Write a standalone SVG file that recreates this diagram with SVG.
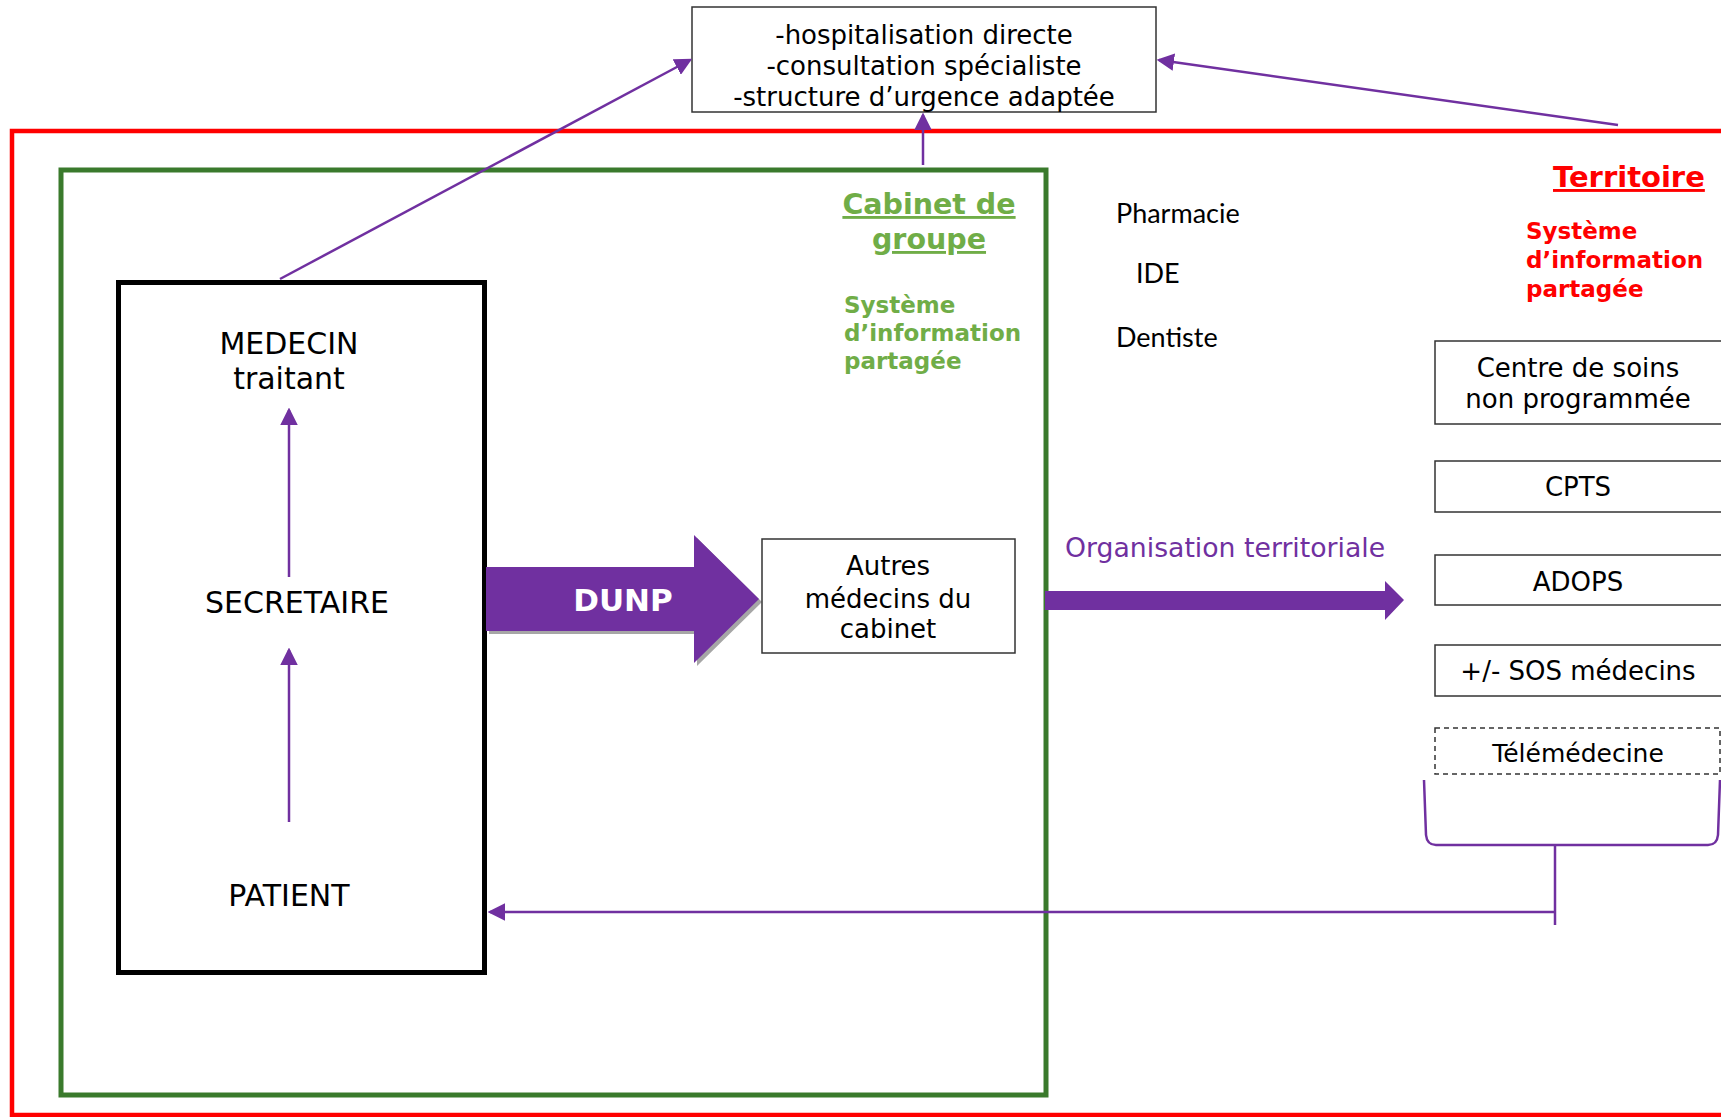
<svg xmlns="http://www.w3.org/2000/svg" width="1721" height="1117" viewBox="0 0 1721 1117">
  <style>
    .t { font-family: "DejaVu Sans", Verdana, sans-serif; fill: #000; }
    .c { text-anchor: middle; }
    .cal { font-family: Lato, "Liberation Sans", sans-serif; font-size: 27px; fill: #000; }
    .box { fill: #fff; stroke: #333; stroke-width: 1.5; }
    .conn { fill: none; stroke: #7030A0; stroke-width: 2.5; }
    .green { fill: #70AD47; font-weight: bold; font-family: "DejaVu Sans", Verdana, sans-serif; }
    .red { fill: #FF0000; font-weight: bold; font-family: "DejaVu Sans", Verdana, sans-serif; }
  </style>
  <defs>
    <marker id="ah" markerWidth="7" markerHeight="7" refX="6" refY="3.5" orient="auto" markerUnits="strokeWidth">
      <path d="M0,0 L7,3.5 L0,7 Z" fill="#7030A0"/>
    </marker>
  </defs>
  <rect width="1721" height="1117" fill="#fff"/>

  <!-- Territory frame -->
  <g id="territoire">
    <rect x="12" y="131" width="1730" height="984" fill="none" stroke="#FF0000" stroke-width="4.5"/>
    <text class="red" x="1553" y="187" font-size="29" text-decoration="underline">Territoire</text>
    <text class="red" font-size="23"><tspan x="1526" y="239">Système</tspan><tspan x="1526" y="268">d’information</tspan><tspan x="1526" y="297">partagée</tspan></text>
  </g>

  <!-- Group practice frame -->
  <g id="cabinet">
    <rect x="61" y="170" width="985" height="925" fill="none" stroke="#3A7A2C" stroke-width="5"/>
    <text class="green c" font-size="28.5" text-decoration="underline"><tspan x="929" y="214">Cabinet de</tspan><tspan x="929" y="249">groupe</tspan></text>
    <text class="green" font-size="23"><tspan x="844" y="313">Système</tspan><tspan x="844" y="341">d’information</tspan><tspan x="844" y="369">partagée</tspan></text>
  </g>

  <!-- Orientation box -->
  <g id="orientation">
    <rect class="box" x="692" y="7" width="464" height="105"/>
    <text class="t c" font-size="26"><tspan x="924" y="44">-hospitalisation directe</tspan><tspan x="924" y="75">-consultation spécialiste</tspan><tspan x="924" y="106">-structure d’urgence adaptée</tspan></text>
  </g>

  <!-- Treating physician block -->
  <g id="parcours">
    <rect x="118.5" y="282.5" width="366" height="690" fill="none" stroke="#000" stroke-width="5"/>
    <text class="t c" font-size="30"><tspan x="289" y="354">MEDECIN</tspan><tspan x="289" y="389">traitant</tspan></text>
    <text class="t c" font-size="30" x="297" y="613">SECRETAIRE</text>
    <text class="t c" font-size="30" x="289" y="906">PATIENT</text>
  </g>

  <!-- DUNP block arrow -->
  <g id="dunp">
    <polygon points="489,570 697,570 697,538 762,602 697,666 697,634 489,634" fill="#A6A6A6"/>
    <polygon points="486,567 694,567 694,535 759,599 694,663 694,631 486,631" fill="#7030A0"/>
    <text x="623" y="611" font-family="DejaVu Sans, Verdana, sans-serif" font-weight="bold" font-size="31" fill="#fff" text-anchor="middle">DUNP</text>
  </g>

  <g id="autres">
    <rect class="box" x="762" y="539" width="253" height="114"/>
    <text class="t c" font-size="26"><tspan x="888" y="575">Autres</tspan><tspan x="888" y="608">médecins du</tspan><tspan x="888" y="638">cabinet</tspan></text>
  </g>

  <!-- Other local professionals -->
  <g id="professionnels">
    <text class="cal" x="1116" y="223">Pharmacie</text>
    <text class="cal" x="1136" y="283">IDE</text>
    <text class="cal" x="1116" y="347">Dentiste</text>
  </g>

  <!-- Territorial organisation arrow -->
  <g id="organisation">
    <text x="1065" y="557" font-family="DejaVu Sans, Verdana, sans-serif" font-size="26.7" fill="#7030A0">Organisation territoriale</text>
    <polygon points="1045,591 1385,591 1385,581 1404,600 1385,620 1385,610 1045,610" fill="#7030A0"/>
  </g>

  <!-- Territorial structures -->
  <g id="centre-soins">
    <rect class="box" x="1435" y="341" width="290" height="83"/>
    <text class="t c" font-size="26"><tspan x="1578" y="377">Centre de soins</tspan><tspan x="1578" y="408">non programmée</tspan></text>
  </g>
  <g id="cpts">
    <rect class="box" x="1435" y="461" width="290" height="51"/>
    <text class="t c" font-size="26" x="1578" y="496">CPTS</text>
  </g>
  <g id="adops">
    <rect class="box" x="1435" y="555" width="290" height="50"/>
    <text class="t c" font-size="26" x="1578" y="591">ADOPS</text>
  </g>
  <g id="sos">
    <rect class="box" x="1435" y="645" width="290" height="51"/>
    <text class="t c" font-size="26" x="1578" y="680">+/- SOS médecins</text>
  </g>
  <g id="telemedecine">
    <rect x="1435" y="728" width="285" height="46" fill="#fff" stroke="#333" stroke-width="1.5" stroke-dasharray="5,4"/>
    <text class="t c" font-size="25" x="1578" y="762">Télémédecine</text>
  </g>

  <!-- Connectors -->
  <g id="connecteurs">
    <line class="conn" x1="280" y1="279" x2="690" y2="60" marker-end="url(#ah)"/>
    <line class="conn" x1="1618" y1="125" x2="1159" y2="60" marker-end="url(#ah)"/>
    <line class="conn" x1="923" y1="165" x2="923" y2="115" marker-end="url(#ah)"/>
    <line class="conn" x1="289" y1="577" x2="289" y2="410" marker-end="url(#ah)"/>
    <line class="conn" x1="289" y1="822" x2="289" y2="650" marker-end="url(#ah)"/>
    <path class="conn" d="M1424,780 L1426,835 Q1427,845 1436,845 L1708,845 Q1717,845 1718,835 L1720,780"/>
    <line class="conn" x1="1555" y1="845" x2="1555" y2="925"/>
    <line class="conn" x1="1555" y1="912" x2="490" y2="912" marker-end="url(#ah)"/>
  </g>
</svg>
